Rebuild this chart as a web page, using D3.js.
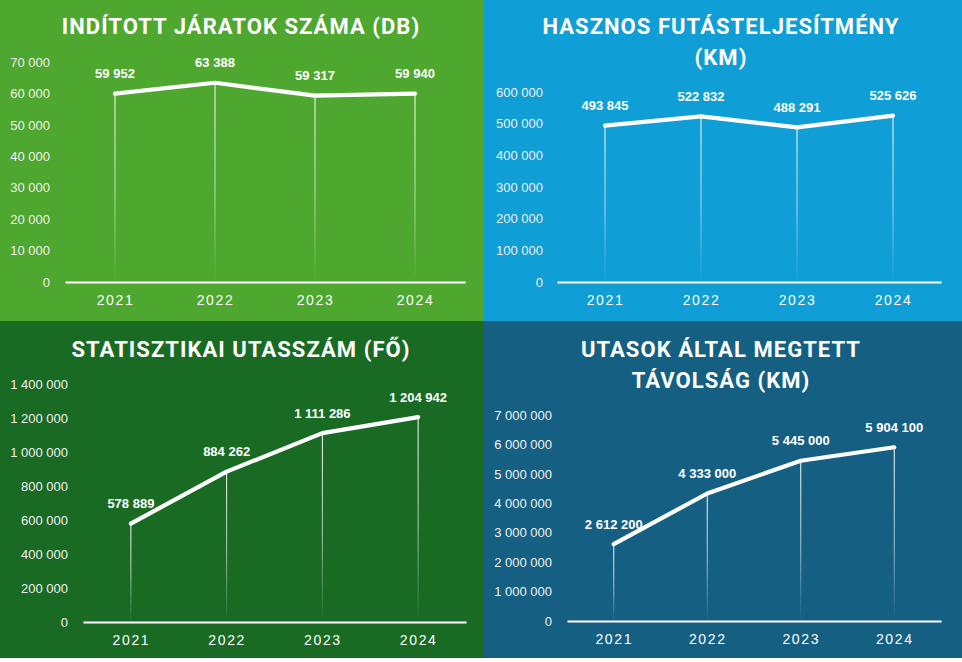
<!DOCTYPE html>
<html>
<head>
<meta charset="utf-8">
<script src="https://cdn.jsdelivr.net/npm/d3@7/dist/d3.min.js"></script>
<style>
  html, body { margin: 0; padding: 0; background: #ffffff; }
  svg { display: block; }
  .title { font-family: Roboto, "Liberation Sans", sans-serif; font-weight: 700; fill: #ffffff; }
  .tick text { font-family: "Liberation Sans", Arial, sans-serif; }
</style>
</head>
<body>
<svg id="chart" width="962" height="662"></svg>
<script>
// ---- data ----
const years = ["2021", "2022", "2023", "2024"];
const jaratok = [59952, 63388, 59317, 59940];
const futas = [493845, 522832, 488291, 525626];
const utasszam = [578889, 884262, 1111286, 1204942];
const tavolsag = [2612200, 4333000, 5445000, 5904100];

const ticksJaratok = [0, 10000, 20000, 30000, 40000, 50000, 60000, 70000];
const ticksFutas = [0, 100000, 200000, 300000, 400000, 500000, 600000];
const ticksUtasszam = [0, 200000, 400000, 600000, 800000, 1000000, 1200000, 1400000];
const ticksTavolsag = [0, 1000000, 2000000, 3000000, 4000000, 5000000, 6000000, 7000000];

const titleJaratok = ["INDÍTOTT JÁRATOK SZÁMA (DB)"];
const titleFutas = ["HASZNOS FUTÁSTELJESÍTMÉNY", "(KM)"];
const titleUtasszam = ["STATISZTIKAI UTASSZÁM (FŐ)"];
const titleTavolsag = ["UTASOK ÁLTAL MEGTETT", "TÁVOLSÁG (KM)"];

// ---- helpers ----
const locale = d3.formatLocale({ decimal: ",", thousands: " ", grouping: [3], currency: ["", ""] });
const fmt = locale.format(",d");

const svg = d3.select("#chart");
const defs = svg.append("defs");
const grad = defs.append("linearGradient").attr("id", "dropGrad")
  .attr("x1", 0).attr("y1", 0).attr("x2", 0).attr("y2", 1);
grad.append("stop").attr("offset", "0%").attr("stop-color", "#fff").attr("stop-opacity", 1);
grad.append("stop").attr("offset", "55%").attr("stop-color", "#fff").attr("stop-opacity", 0.6);
grad.append("stop").attr("offset", "100%").attr("stop-color", "#fff").attr("stop-opacity", 0.0);

const panels = [
  { bg: "#4EA72E", box: [0, 0, 484, 321], title: titleJaratok, titleX: 241, titleY: 26,
    values: jaratok, ticks: ticksJaratok, yRange: [282, 62], xRange: [65, 465], yLabelX: 50 },
  { bg: "#0F9ED5", box: [484, 0, 478, 321], title: titleFutas, titleX: 721, titleY: 26,
    values: futas, ticks: ticksFutas, yRange: [282, 92], xRange: [557, 941], yLabelX: 543 },
  { bg: "#196B24", box: [0, 321, 484, 337], title: titleUtasszam, titleX: 241, titleY: 349,
    values: utasszam, ticks: ticksUtasszam, yRange: [622, 384], xRange: [83, 466], yLabelX: 68 },
  { bg: "#156082", box: [484, 321, 478, 337], title: titleTavolsag, titleX: 721, titleY: 349,
    values: tavolsag, ticks: ticksTavolsag, yRange: [621, 415], xRange: [567, 941], yLabelX: 552 }
];

panels.forEach(p => {
  const g = svg.append("g");
  g.append("rect").attr("x", p.box[0]).attr("y", p.box[1])
    .attr("width", p.box[2]).attr("height", p.box[3]).attr("fill", p.bg);

  // title
  p.title.forEach((line, i) => {
    g.append("text").attr("class", "title")
      .attr("x", p.titleX).attr("y", p.titleY + i * 31)
      .attr("text-anchor", "middle").attr("dominant-baseline", "central")
      .style("font-size", "22px").style("letter-spacing", "1.05px")
      .text(line);
  });

  const x = d3.scalePoint().domain(years).range(p.xRange).padding(0.5);
  const y = d3.scaleLinear().domain([p.ticks[0], p.ticks[p.ticks.length - 1]]).range(p.yRange);

  // y axis labels
  const ya = g.append("g").attr("transform", `translate(${p.yLabelX},0)`)
    .call(d3.axisLeft(y).tickValues(p.ticks).tickFormat(fmt).tickSize(0).tickPadding(0));
  ya.select(".domain").remove();
  ya.selectAll("text").attr("fill", "#f0f0f0").style("font-size", "13px");

  // drop lines
  const pts = years.map((yr, i) => ({ yr, v: p.values[i] }));
  g.selectAll(".drop").data(pts).join("rect")
    .attr("x", d => x(d.yr) - 0.5).attr("width", 1)
    .attr("y", d => y(d.v)).attr("height", d => y(0) - y(d.v))
    .attr("fill", "url(#dropGrad)");

  // x axis
  const xa = g.append("g").attr("transform", `translate(0,${y(0)})`)
    .call(d3.axisBottom(x).tickSize(0).tickSizeOuter(0).tickPadding(13));
  xa.select(".domain").attr("stroke", "#fff").attr("stroke-width", 2.2);
  xa.selectAll("text").attr("fill", "#fff").style("font-size", "14px").style("letter-spacing", "1.6px");

  // line
  const line = d3.line().x(d => x(d.yr)).y(d => y(d.v));
  g.append("path").datum(pts).attr("d", line)
    .attr("fill", "none").attr("stroke", "#fff").attr("stroke-width", 4.2)
    .attr("stroke-linecap", "round").attr("stroke-linejoin", "round");

  // data labels
  g.selectAll(".lbl").data(pts).join("text")
    .attr("x", d => x(d.yr)).attr("y", d => y(d.v) - 20)
    .attr("text-anchor", "middle").attr("dominant-baseline", "central")
    .attr("fill", "#fff")
    .style("font-family", "'Liberation Sans', Arial, sans-serif")
    .style("font-weight", 700).style("font-size", "13px")
    .text(d => fmt(d.v));
});
</script>
</body>
</html>
